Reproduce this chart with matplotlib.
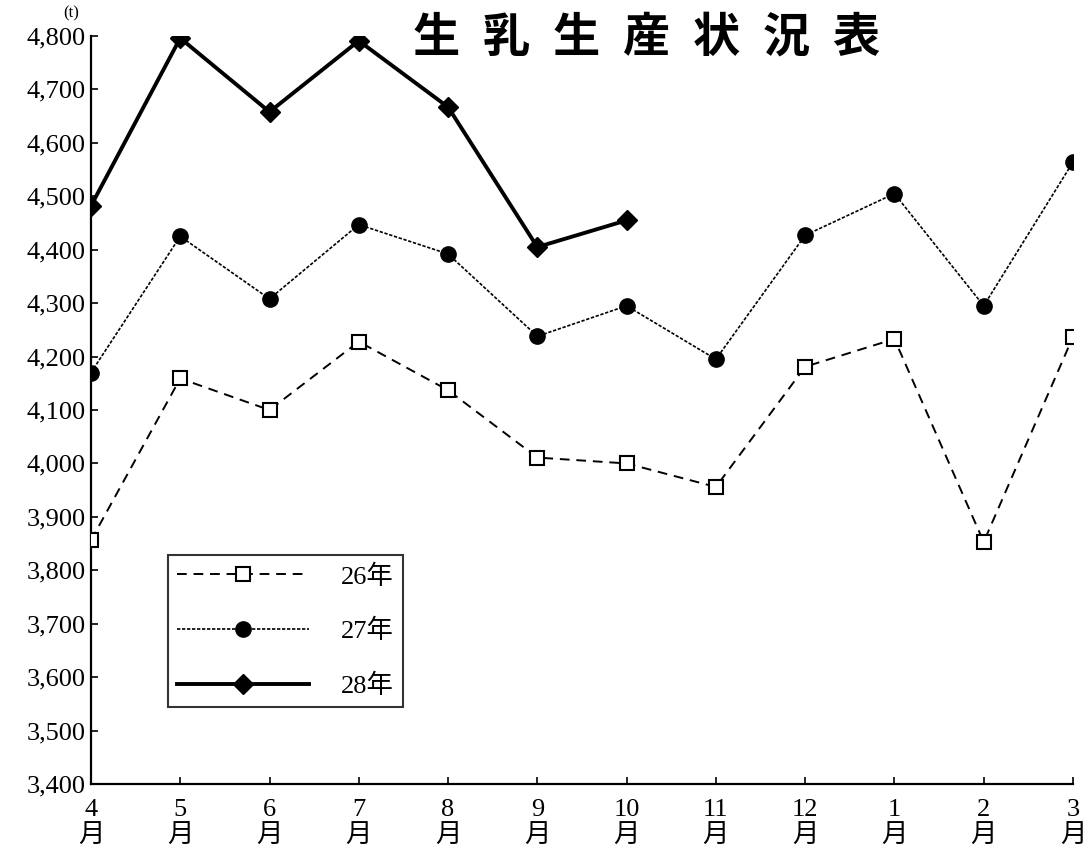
import matplotlib
matplotlib.use("Agg")
import matplotlib.pyplot as plt
from matplotlib.ticker import FuncFormatter

plt.rcParams['font.family'] = ['Liberation Serif', 'Noto Sans CJK JP', 'DejaVu Sans']

# 月の並び（年度：4月〜3月）
months = ["4", "5", "6", "7", "8", "9", "10", "11", "12", "1", "2", "3"]

# 生乳生産量 (t)
prod_26 = [3856, 4159, 4100, 4228, 4137, 4011, 4000, 3956, 4181, 4233, 3853, 4237]
prod_27 = [4170, 4425, 4308, 4447, 4392, 4238, 4295, 4195, 4427, 4505, 4295, 4564]
prod_28 = [4482, 4796, 4658, 4791, 4667, 4405, 4455]

series_labels = ["26年", "27年", "28年"]
title_chars = ["生", "乳", "生", "産", "状", "況", "表"]

fig = plt.figure(figsize=(10.88, 8.51), dpi=100)
ax = fig.add_axes([0.0836, 0.0787, 0.9026, 0.879])

x_all = list(range(len(months)))

ax.plot(x_all, prod_26, linestyle=(0, (5, 3.5)), linewidth=1.4, color='black',
        marker='s', markersize=10, markerfacecolor='white', markeredgecolor='black',
        markeredgewidth=1.5, label=series_labels[0], zorder=3)
ax.plot(x_all, prod_27, linestyle=(0, (2, 1)), linewidth=1.2, color='black',
        marker='o', markersize=11, markerfacecolor='black', markeredgecolor='black',
        label=series_labels[1], zorder=3)
ax.plot(x_all[:len(prod_28)], prod_28, linestyle='-', linewidth=2.8, color='black',
        marker='D', markersize=10, markerfacecolor='black', markeredgecolor='black',
        label=series_labels[2], zorder=4)

ax.set_xlim(0, len(months) - 1)
ax.set_ylim(3400, 4800)
ax.set_yticks(range(3400, 4801, 100))
ax.yaxis.set_major_formatter(FuncFormatter(lambda v, p: f"{int(v):,}"))
ax.set_xticks(x_all)
ax.set_xticklabels([m + "\n月" for m in months], linespacing=1.2)

for s in ['top', 'right']:
    ax.spines[s].set_visible(False)
for s in ['left', 'bottom']:
    ax.spines[s].set_linewidth(1.6)
    ax.spines[s].set_color('black')

ax.tick_params(axis='y', direction='in', length=5, width=1.2, labelsize=19, pad=4)
ax.tick_params(axis='x', direction='in', length=5, width=1.2, labelsize=19, pad=11)

ax.text(-0.02, 1.03, "(t)", transform=ax.transAxes, ha='center', va='center',
        fontsize=12)

leg = ax.legend(loc='upper left', bbox_to_anchor=(0.078, 0.306), borderaxespad=0,
                fontsize=19, frameon=True, fancybox=False, handlelength=5.0,
                handletextpad=1.2, labelspacing=1.15, borderpad=0.35)
leg.get_frame().set_edgecolor('black')
leg.get_frame().set_linewidth(1.5)

# タイトル（一文字ずつ間隔をあけて配置）
for i, ch in enumerate(title_chars):
    fig.text(0.401 + i * 0.0643, 0.955, ch, ha='center', va='center',
             fontsize=34, fontweight='bold', family=['Noto Sans CJK JP'])

fig.savefig("out.png", dpi=100, facecolor='white')
